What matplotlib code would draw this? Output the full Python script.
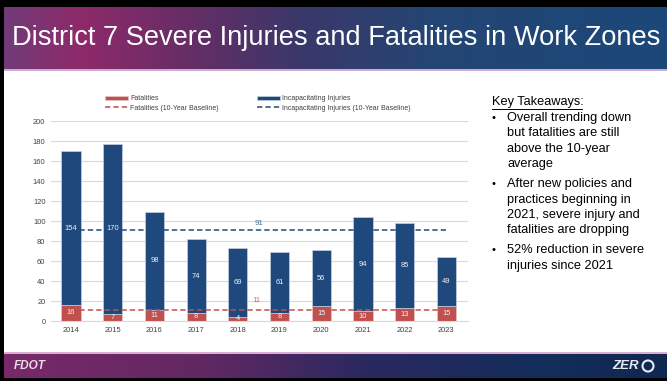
import matplotlib.pyplot as plt
import numpy as np
from matplotlib.patches import Circle

plt.rcParams['font.family'] = ['Liberation Sans', 'DejaVu Sans']

years = ['2014', '2015', '2016', '2017', '2018', '2019', '2020', '2021', '2022', '2023']
fatalities = [16, 7, 11, 8, 4, 8, 15, 10, 13, 15]
injuries = [154, 170, 98, 74, 69, 61, 56, 94, 85, 49]
fatal_baseline = [11, 11, 11, 11, 11, 11, 11, 11, 11, 11]
injury_baseline = [91, 91, 91, 91, 91, 91, 91, 91, 91, 91]

takeaways = [
    ['Overall trending down', 'but fatalities are still', 'above the 10-year', 'average'],
    ['After new policies and', 'practices beginning in', '2021, severe injury and', 'fatalities are dropping'],
    ['52% reduction in severe', 'injuries since 2021'],
]

RED = '#C0504D'
BLUE = '#1F497D'
W, H = 667, 381

fig = plt.figure(figsize=(W / 100, H / 100), dpi=100)

# slide background: header/footer gradient bands with dark frame
bg = np.ones((H, W, 3))
xs = np.linspace(0, 1, W)
def band(stops, cols):
    cols = np.array(cols) / 255.0
    return np.stack([np.interp(xs, stops, cols[:, c]) for c in range(3)], axis=1)
head = band([0, 0.12, 0.3, 0.45, 0.65, 1.0],
            [(112, 60, 122), (142, 42, 106), (98, 46, 102), (58, 56, 106), (36, 70, 116), (28, 72, 122)])
foot = band([0, 0.3, 0.55, 0.8, 1.0],
            [(122, 40, 106), (98, 40, 100), (42, 40, 95), (20, 45, 90), (16, 40, 80)])
bg[7:69] = head
bg[69:71] = (0.80, 0.68, 0.82)
bg[352:354] = (0.86, 0.68, 0.82)
bg[354:378] = foot
bg[:7] = 0
bg[378:] = 0
bg[:, :4] = 0
bga = fig.add_axes([0, 0, 1, 1], zorder=-5)
bga.imshow(bg, aspect='auto', extent=(0, W, H, 0))
bga.set_xlim(0, W)
bga.set_ylim(H, 0)
bga.axis('off')

bga.text(12, 38, 'District 7 Severe Injuries and Fatalities in Work Zones',
         color='white', fontsize=19.6, va='center', ha='left')

# footer logos
bga.text(14, 366, 'FDOT', color='#e8dbe8', fontsize=8.5, fontweight='bold',
         fontstyle='italic', va='center', ha='left')
bga.text(612, 366, 'ZER', color='#e6eaf2', fontsize=9.5, fontweight='bold',
         fontstyle='italic', va='center', ha='left')
bga.add_patch(Circle((648, 366), 5.5, fill=False, ec='#e6eaf2', lw=1.5))

# key takeaways panel
bga.text(492, 102, 'Key Takeaways:', fontsize=9.2, color='black', va='center', ha='left')
bga.plot([492, 582], [108.5, 108.5], color='black', lw=0.7)
y = 118
for item in takeaways:
    bga.text(494, y, '\u2022', fontsize=8, va='center', ha='center')
    for line in item:
        bga.text(507, y, line, fontsize=9.2, va='center', ha='left')
        y += 15.4
    y += 4.5

# chart
ax = fig.add_axes([51 / W, 1 - 321 / H, 417 / W, 200 / H])
x = np.arange(len(years))
b1 = ax.bar(x, fatalities, width=0.46, color=RED, edgecolor='#e6c8c8', linewidth=0.5,
            label='Fatalities', zorder=2)
b2 = ax.bar(x, injuries, width=0.46, bottom=fatalities, color=BLUE, edgecolor='#c5d0e0',
            linewidth=0.5, label='Incapacitating Injuries', zorder=2)
l1, = ax.plot(x, fatal_baseline, color=RED, ls=(0, (3.5, 2)), lw=1.1,
              label='Fatalities (10-Year Baseline)', zorder=3)
l2, = ax.plot(x, injury_baseline, color=BLUE, ls=(0, (3.5, 2)), lw=1.1,
              label='Incapacitating Injuries (10-Year Baseline)', zorder=3)

for i in range(len(years)):
    ax.text(x[i], fatalities[i] / 2, str(fatalities[i]), color='#f2f2f2', fontsize=5.4,
            ha='center', va='center', zorder=4)
    ax.text(x[i], fatalities[i] + injuries[i] / 2, str(injuries[i]), color='#f2f2f2',
            fontsize=5.4, ha='center', va='center', zorder=4)
ax.text(4.5, injury_baseline[0] + 3, str(injury_baseline[0]), color='#4a6a9a', fontsize=5.6,
        ha='center', va='bottom')
ax.text(4.45, fatal_baseline[0] + 6, str(fatal_baseline[0]), color='#e06a66', fontsize=5.6,
        ha='center', va='bottom')

ax.set_xlim(-0.48, 9.52)
ax.set_ylim(0, 200)
ax.set_yticks(range(0, 201, 20))
ax.set_xticks(x)
ax.set_xticklabels(years)
ax.tick_params(labelsize=5.4, colors='#404040', length=0, pad=4)
ax.grid(axis='y', color='#d9d9d9', lw=0.8, zorder=0)
ax.set_axisbelow(True)
for s in ['top', 'right', 'left']:
    ax.spines[s].set_visible(False)
ax.spines['bottom'].set_color('#d9d9d9')
ax.set_facecolor('none')

leg_kw = dict(frameon=False, fontsize=5, handlelength=3.2, handletextpad=0.4,
              labelspacing=0.3, borderpad=0, labelcolor='#404040')
fig.legend([b1, l1], ['Fatalities', 'Fatalities (10-Year Baseline)'],
           loc='upper left', bbox_to_anchor=(102 / W, 1 - 92 / H), **leg_kw)
fig.legend([b2, l2], ['Incapacitating Injuries', 'Incapacitating Injuries (10-Year Baseline)'],
           loc='upper left', bbox_to_anchor=(254 / W, 1 - 92 / H), **leg_kw)

fig.savefig('out.png', dpi=100)
